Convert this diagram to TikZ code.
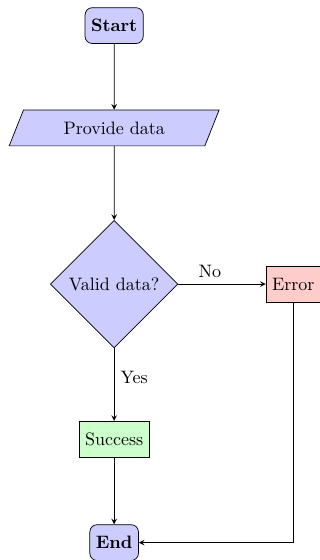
\documentclass[tikz,border=0pt]{standalone}
\usepackage{amsmath,amssymb}
\usetikzlibrary{shapes.geometric}

\begin{document}
\begin{tikzpicture}[
        startstop/.style={rectangle, rounded corners, minimum height=0.7cm, draw=black, fill=blue!20, font=\bfseries},
        io/.style={trapezium, trapezium left angle=60, trapezium right angle=120, trapezium stretches body, minimum width=4.1cm, minimum height=0.7cm, draw=black, fill=blue!20},
        decision/.style={diamond, aspect=1, draw=black, fill=blue!20},
        process/.style={rectangle, minimum height=0.7cm, draw=black},
        arrow/.style={->, >=stealth}
    ]
        \useasboundingbox (-2.23,0.5) rectangle (4.02,-10.44);

        \node[startstop] (start) at (0,0) {Start};
        \node[io] (data) at (0,-2) {Provide data};
        \node[decision] (valid) at (0,-5.05) {Valid data?};
        \node[process, fill=red!20] (error) at (3.5,-5.05) {Error};
        \node[process, fill=green!20] (success) at (0,-8.08) {Success};
        \node[startstop] (end) at (0,-10.1) {End};

        \draw[arrow] (start) -- (data);
        \draw[arrow] (data) -- (valid);
        \draw[arrow] (valid) -- node[pos=0.36, above] {No} (error);
        \draw[arrow] (valid) -- node[pos=0.4, right] {Yes} (success);
        \draw[arrow] (success) -- (end);
        \draw[arrow] (error) |- (end);
    \end{tikzpicture}
\end{document}
